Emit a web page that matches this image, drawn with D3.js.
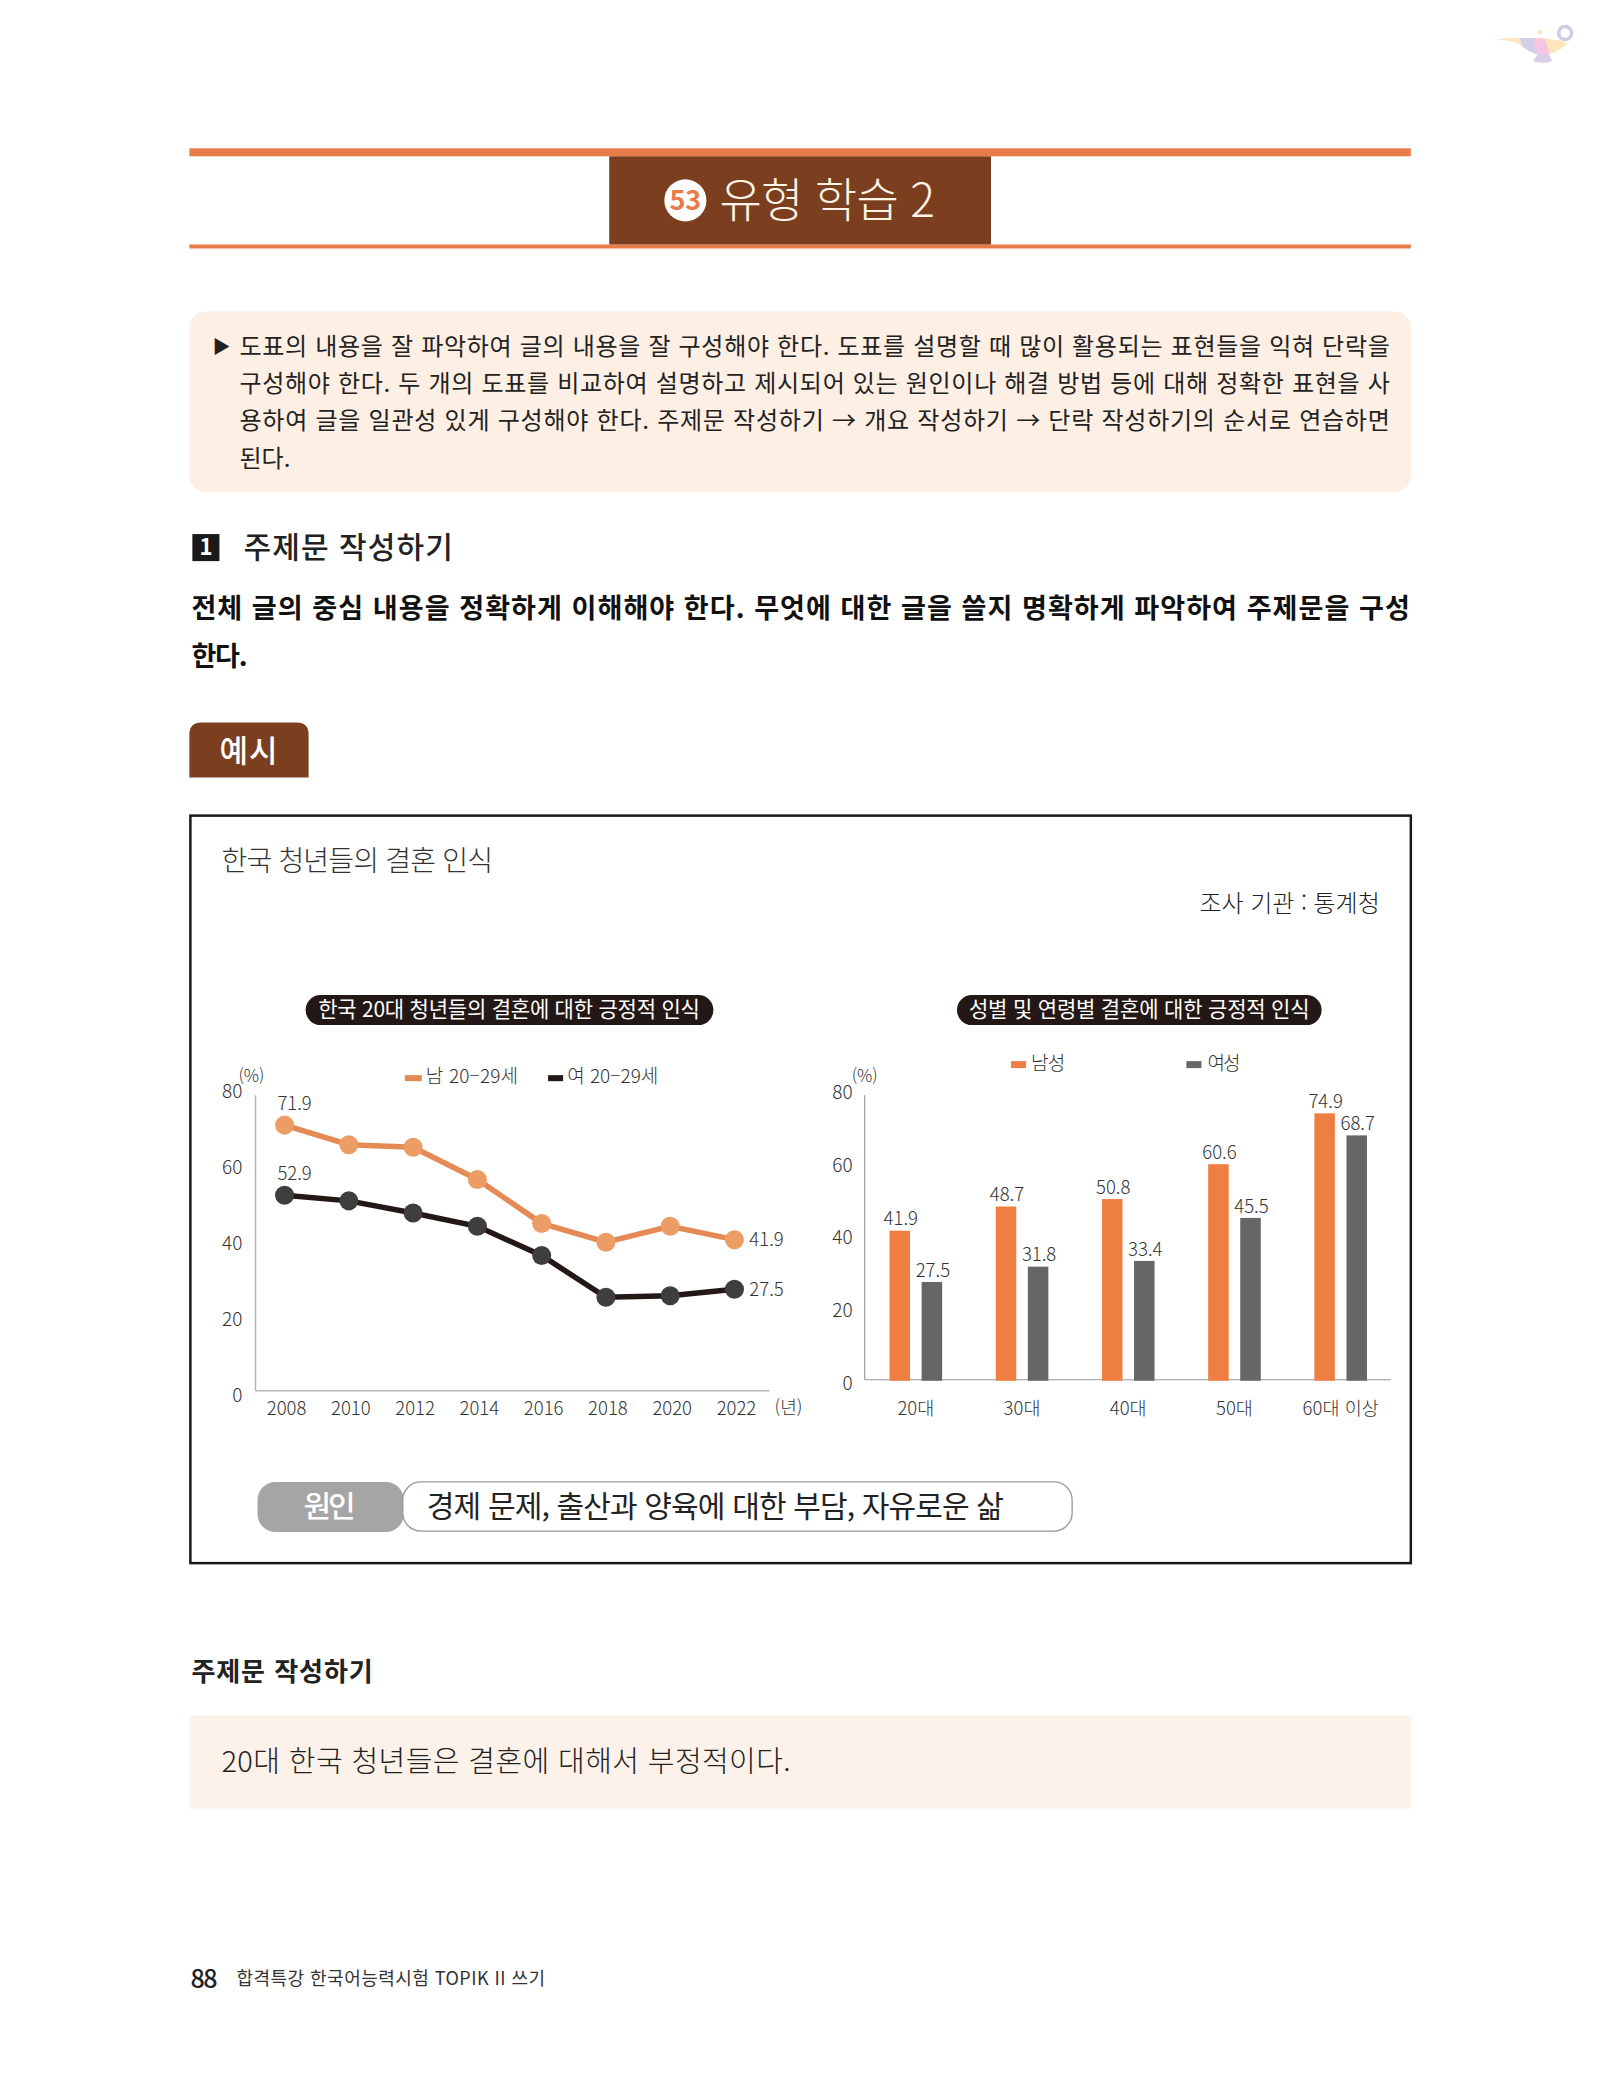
<!DOCTYPE html>
<html lang="ko"><head><meta charset="utf-8">
<style>html,body{margin:0;padding:0;background:#fff}svg{display:block}text{font-family:"Noto Sans CJK KR","Noto Sans",sans-serif}</style>
<script src="https://cdnjs.cloudflare.com/ajax/libs/d3/7.8.5/d3.min.js"></script>
</head><body><div id="c"></div>
<script>
// ---- chart data ----
const years = ["2008","2010","2012","2014","2016","2018","2020","2022"];
const male2029 = [71.9,66.6,65.9,57.2,45.3,40.2,44.5,40.9];
const female2029 = [52.9,51.4,48.1,44.5,36.6,25.3,25.7,27.5];
const lineLabelsMale = ["71.9",null,null,null,null,null,null,"41.9"];
const lineLabelsFemale = ["52.9",null,null,null,null,null,null,"27.5"];
const ageGroups = ["20대","30대","40대","50대","60대 이상"];
const menByAge = [41.9,48.7,50.8,60.6,74.9];
const womenByAge = [27.5,31.8,33.4,45.5,68.7];
const yTicks = [0,20,40,60,80];
const calloutLines = [
 "도표의 내용을 잘 파악하여 글의 내용을 잘 구성해야 한다. 도표를 설명할 때 많이 활용되는 표현들을 익혀 단락을",
 "구성해야 한다. 두 개의 도표를 비교하여 설명하고 제시되어 있는 원인이나 해결 방법 등에 대해 정확한 표현을 사",
 "용하여 글을 일관성 있게 구성해야 한다. 주제문 작성하기 → 개요 작성하기 → 단락 작성하기의 순서로 연습하면",
 "된다."];

const W=1600,H=2095,k=1.002;
const svg=d3.select("#c").append("svg").attr("width",W).attr("height",H).attr("viewBox",`0 0 ${W/k} ${H/k}`);
svg.append("rect").attr("width",W).attr("height",H).attr("fill","#fff");

function rect(x,y,w,h,fill,rx){return svg.append("rect").attr("x",x).attr("y",y).attr("width",w).attr("height",h).attr("fill",fill).attr("rx",rx||0);}
function txt(x,y,s,o={}){
  const t=svg.append("text").attr("x",x).attr("y",y).attr("dy",".36em").text(s)
   .attr("font-size",o.size||18).attr("fill",o.fill||"#222").attr("font-weight",o.weight||400)
   .attr("text-anchor",o.anchor||"start");
  if(o.len){t.attr("textLength",o.len).attr("lengthAdjust","spacing");}
  return t;
}
const brown="#7b3f1f", orange="#e87c48", peach="#fdefe4";

// lamp ornament
const defs=svg.append("defs");
const bodyPath="M1494 40 C1505 37 1514 38 1522 38 C1535 38 1550 38 1564 43 C1556 52 1548 54 1541 55 C1532 55 1524 50 1516 44 C1510 41 1502 40 1494 40Z";
defs.append("clipPath").attr("id","lampClip").append("path").attr("d",bodyPath);
const lamp=svg.append("g").attr("opacity",.72);
const band=lamp.append("g").attr("clip-path","url(#lampClip)");
band.append("rect").attr("x",1490).attr("y",30).attr("width",80).attr("height",30).attr("fill","#fbdca0");
band.append("path").attr("d","M1516 36 L1530 36 L1536 58 L1524 58Z").attr("fill","#c2bede");
band.append("path").attr("d","M1530 36 L1541 36 L1548 58 L1536 58Z").attr("fill","#f5aedb");
lamp.append("path").attr("d","M1530 61 Q1540 64 1549 61 L1546 54 L1535 54Z").attr("fill","#cdbbe0");
lamp.append("circle").attr("cx",1562).attr("cy",33).attr("r",6.5).attr("fill","none").attr("stroke","#bdb9dc").attr("stroke-width",3.5);
lamp.append("circle").attr("cx",1537).attr("cy",32).attr("r",2.2).attr("fill","#fbdca0");

// header band
rect(189,148,1219,8,orange);
rect(189,244,1219,4,orange);
rect(608,156,381,88,brown);
svg.append("circle").attr("cx",684).attr("cy",200).attr("r",21).attr("fill","#fff");
txt(684,200,"53",{size:27,weight:700,fill:orange,anchor:"middle"});
txt(718,200,"유형 학습 2",{size:46,weight:300,fill:"#fdf3e6",len:215});

// callout
rect(189,311,1219,180,peach,16);
txt(212,346,"▶",{size:18,fill:"#222"});
const lineYs=[346,383,420,457], lineLen=[1148,1148,1148,null];
calloutLines.forEach((s,i)=>txt(239,lineYs[i],s,{size:24,fill:"#222",len:lineLen[i]||undefined}));

// section heading
rect(192,533,27,27,"#1a1a1a");
txt(205.5,546,"1",{size:22,weight:700,fill:"#fff",anchor:"middle"});
txt(243,546,"주제문 작성하기",{size:30,weight:500,fill:"#222",len:209});
txt(191,607,"전체 글의 중심 내용을 정확하게 이해해야 한다. 무엇에 대한 글을 쓸지 명확하게 파악하여 주제문을 구성",{size:27,weight:700,fill:"#111",len:1216});
txt(191,655,"한다.",{size:27,weight:700,fill:"#111",len:56});

// tab
svg.append("path").attr("d","M189 776 V733 Q189 721 201 721 H296 Q308 721 308 733 V776 Z").attr("fill",brown);
txt(248,749,"예시",{size:31,weight:500,fill:"#fff",anchor:"middle",len:58});

// frame
svg.append("rect").attr("x",190).attr("y",814).attr("width",1218).attr("height",746).attr("fill","#fff").attr("stroke","#1a1a1a").attr("stroke-width",2.5);
txt(221,859,"한국 청년들의 결혼 인식",{size:28,weight:300,fill:"#333",len:271});
txt(1197,902,"조사 기관 : 통계청",{size:24,weight:300,fill:"#222",len:180});

// pills
rect(305,993,407,30,"#231815",15);
txt(508,1007,"한국 20대 청년들의 결혼에 대한 긍정적 인식",{size:21,weight:400,fill:"#fff",anchor:"middle",len:381});
rect(955,993,364,30,"#231815",15);
txt(1137,1007,"성별 및 연령별 결혼에 대한 긍정적 인식",{size:21,weight:400,fill:"#fff",anchor:"middle",len:340});

// ---- left line chart ----
const yL=d3.scaleLinear().domain([0,80]).range([1388,1093]);
const yLLabel=d3.scaleLinear().domain([0,80]).range([1392,1089]);
const xL=d3.scalePoint().domain(years).range([284,733]);
const gL=svg.append("g");
gL.append("line").attr("x1",255).attr("x2",255).attr("y1",yL(80)).attr("y2",yL(0)).attr("stroke","#b5b5b5").attr("stroke-width",1.5);
gL.append("line").attr("x1",255).attr("x2",768).attr("y1",yL(0)).attr("y2",yL(0)).attr("stroke","#b5b5b5").attr("stroke-width",1.5);
gL.selectAll("text.yt").data(yTicks).join("text").attr("class","yt").attr("x",242).attr("y",d=>yLLabel(d)).attr("dy",".36em")
  .attr("text-anchor","end").attr("font-size",19).attr("font-weight",300).attr("fill","#333").text(d=>d);
gL.selectAll("text.xt").data(years).join("text").attr("class","xt").attr("x",d=>xL(d)+2).attr("y",1406).attr("dy",".36em")
  .attr("text-anchor","middle").attr("font-size",18.5).attr("font-weight",300).attr("fill","#333").text(d=>d);
function series(vals,lc,pc,labels){
  const line=d3.line().x((d,i)=>xL(years[i])).y(d=>yL(d));
  gL.append("path").attr("d",line(vals)).attr("fill","none").attr("stroke",lc).attr("stroke-width",5.5);
  gL.selectAll(null).data(vals).join("circle").attr("cx",(d,i)=>xL(years[i])).attr("cy",d=>yL(d)).attr("r",9.5).attr("fill",pc);
  gL.selectAll(null).data(vals).join("text").attr("x",(d,i)=>i===0?xL(years[i])+10:xL(years[i])+32)
    .attr("y",(d,i)=>i===0?yL(d)-22:yL(d)).attr("dy",".36em").attr("text-anchor","middle")
    .attr("font-size",18.5).attr("font-weight",300).attr("fill","#333").text((d,i)=>labels[i]);
}
series(male2029,"#e58a55","#ec9d66",lineLabelsMale);
series(female2029,"#231815","#3e3e3e",lineLabelsFemale);
txt(238,1074,"(%)",{size:17,weight:300,fill:"#333"});
txt(773,1405,"(년)",{size:18,weight:300,fill:"#333"});
rect(404,1073,17,6,"#e58a55");
txt(425,1074,"남 20–29세",{size:19,weight:300,fill:"#333",len:92});
rect(547,1073,15,6,"#231815");
txt(566,1074,"여 20–29세",{size:19,weight:300,fill:"#333",len:91});

// ---- right bar chart ----
const yR=d3.scaleLinear().domain([0,80]).range([1377,1093]);
const yRLabel=d3.scaleLinear().domain([0,80]).range([1380,1090]);
const xR=d3.scaleBand().domain(ageGroups).range([861,1391]);
const xInner=d3.scaleBand().domain(["m","f"]).range([-26.25,26.25]).paddingInner(.36);
const gR=svg.append("g");
gR.append("line").attr("x1",863).attr("x2",863).attr("y1",yR(80)).attr("y2",yR(0)).attr("stroke","#999").attr("stroke-width",1.2);
gR.append("line").attr("x1",863).attr("x2",1388).attr("y1",yR(0)).attr("y2",yR(0)).attr("stroke","#999").attr("stroke-width",1.2);
gR.selectAll("text.yt").data(yTicks).join("text").attr("class","yt").attr("x",851).attr("y",d=>yRLabel(d)).attr("dy",".36em")
  .attr("text-anchor","end").attr("font-size",19).attr("font-weight",300).attr("fill","#333").text(d=>d);
gR.selectAll("text.xt").data(ageGroups).join("text").attr("class","xt").attr("x",d=>xR(d)+xR.bandwidth()/2).attr("y",1406).attr("dy",".36em")
  .attr("text-anchor","middle").attr("font-size",18.5).attr("font-weight",300).attr("fill","#333").text(d=>d);
function bars(vals,key,fill){
  const cx=(i)=>xR(ageGroups[i])+xR.bandwidth()/2+xInner(key);
  gR.selectAll(null).data(vals).join("rect").attr("x",(d,i)=>cx(i)).attr("width",xInner.bandwidth())
    .attr("y",d=>yR(d)).attr("height",d=>yR(0)-yR(d)+1).attr("fill",fill);
  gR.selectAll(null).data(vals).join("text").attr("x",(d,i)=>cx(i)+xInner.bandwidth()/2+1).attr("y",d=>yR(d)-12).attr("dy",".36em")
    .attr("text-anchor","middle").attr("font-size",18.5).attr("font-weight",300).attr("fill","#333").text(d=>d.toFixed(1));
}
bars(menByAge,"m","#ee7e42");
bars(womenByAge,"f","#666666");
txt(850,1074,"(%)",{size:17,weight:300,fill:"#333"});
rect(1009,1059,15,7,"#ee7e42");
txt(1029,1061,"남성",{size:19,weight:300,fill:"#333",len:34});
rect(1184,1059,15,7,"#666666");
txt(1205,1061,"여성",{size:19,weight:300,fill:"#333",len:33});

// cause row
rect(257,1479,146,50,"#a5a5a5",18);
txt(329,1503,"원인",{size:30,weight:500,fill:"#fff",anchor:"middle",len:52});
svg.append("rect").attr("x",402).attr("y",1479).attr("width",668).attr("height",49).attr("rx",18).attr("fill","#fff").attr("stroke","#999").attr("stroke-width",1.3);
txt(426,1503,"경제 문제, 출산과 양육에 대한 부담, 자유로운 삶",{size:30,weight:400,fill:"#222",len:576});

// answer
txt(191,1668,"주제문 작성하기",{size:26,weight:700,fill:"#222",len:181});
rect(189,1712,1219,93,"#fdf2ea");
txt(221,1758,"20대 한국 청년들은 결혼에 대해서 부정적이다.",{size:29,weight:300,fill:"#222",len:568});

// footer
txt(190,1975,"88",{size:25,weight:500,fill:"#222",len:27});
txt(236,1975,"합격특강 한국어능력시험 TOPIK II 쓰기",{size:18,weight:400,fill:"#333",len:308});
</script></body></html>
